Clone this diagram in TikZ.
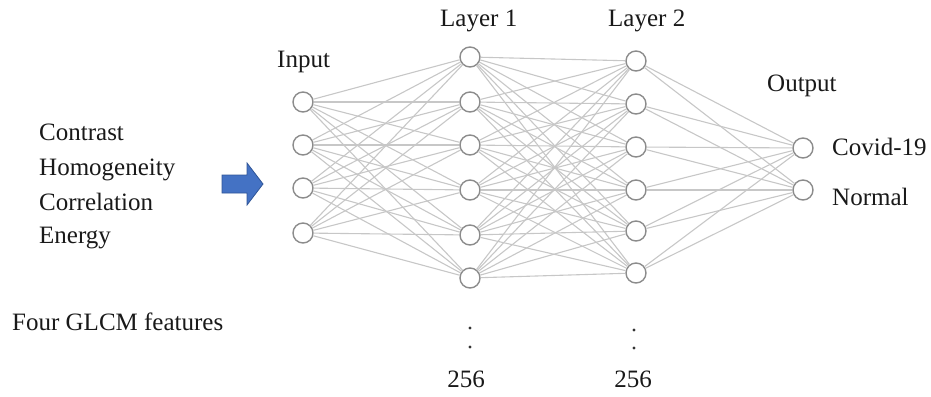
\documentclass[tikz,border=0pt]{standalone}
\usepackage{fontspec}
\setmainfont{Liberation Serif}
\definecolor{arrowfill}{HTML}{4472C4}
\definecolor{arrowline}{HTML}{2F5597}
\begin{document}
\begin{tikzpicture}[x=1pt,y=-1pt,
  neuron/.style={circle,draw=black!45,line width=1.4pt,fill=white,minimum size=20pt,inner sep=0pt},
  conn/.style={draw=black!22,line width=1.1pt},
  lbl/.style={anchor=base west,inner sep=0pt,font=\fontsize{25}{29}\selectfont,text=black!90},
  dotmark/.style={circle,fill=black!80,inner sep=0pt,minimum size=3.2pt}]
\useasboundingbox (0,0) rectangle (931,396);
% neurons
\foreach \i/\y in {1/102,2/145,3/188,4/233} \node[neuron] (i\i) at (303,\y) {};
\foreach \i/\y in {1/57,2/102,3/145,4/190,5/235,6/278} \node[neuron] (h\i) at (470,\y) {};
\foreach \i/\y in {1/61,2/104,3/147,4/190,5/231,6/273} \node[neuron] (g\i) at (636,\y) {};
\foreach \i/\y in {1/148,2/190} \node[neuron] (o\i) at (803,\y) {};
% connections
\foreach \a in {1,...,4} \foreach \b in {1,...,6} \draw[conn] (i\a) -- (h\b);
\foreach \a in {1,...,6} \foreach \b in {1,...,6} \draw[conn] (h\a) -- (g\b);
\foreach \a in {1,...,6} \foreach \b in {1,2} \draw[conn] (g\a) -- (o\b);
% labels
\node[lbl] (tin) at (277,67) {Input};
\node[lbl] (tl1) at (440,27) {Layer 1};
\node[lbl] (tl2) at (608,27) {Layer 2};
\node[lbl] (tout) at (767,91) {Output};
\node[lbl] (tcov) at (832,155) {Covid-19};
\node[lbl] (tnor) at (832,205) {Normal};
\node[lbl] (f1) at (39,140) {Contrast};
\node[lbl] (f2) at (39,175) {Homogeneity};
\node[lbl] (f3) at (39,210) {Correlation};
\node[lbl] (f4) at (39,243) {Energy};
\node[lbl] (f5) at (12,330) {Four GLCM features};
\node[lbl,anchor=base] (n1) at (466,387) {256};
\node[lbl,anchor=base] (n2) at (633,387) {256};
\node[dotmark] (d1a) at (470,328) {};
\node[dotmark] (d1b) at (470,347) {};
\node[dotmark] (d2a) at (634,330) {};
\node[dotmark] (d2b) at (634,348) {};
% block arrow
\draw[fill=arrowfill,draw=arrowline,line width=0.8pt,line join=miter]
  (222,175) -- (247,175) -- (247,163) -- (263,184) -- (247,205) -- (247,193) -- (222,193) -- cycle;
\end{tikzpicture}
\end{document}
